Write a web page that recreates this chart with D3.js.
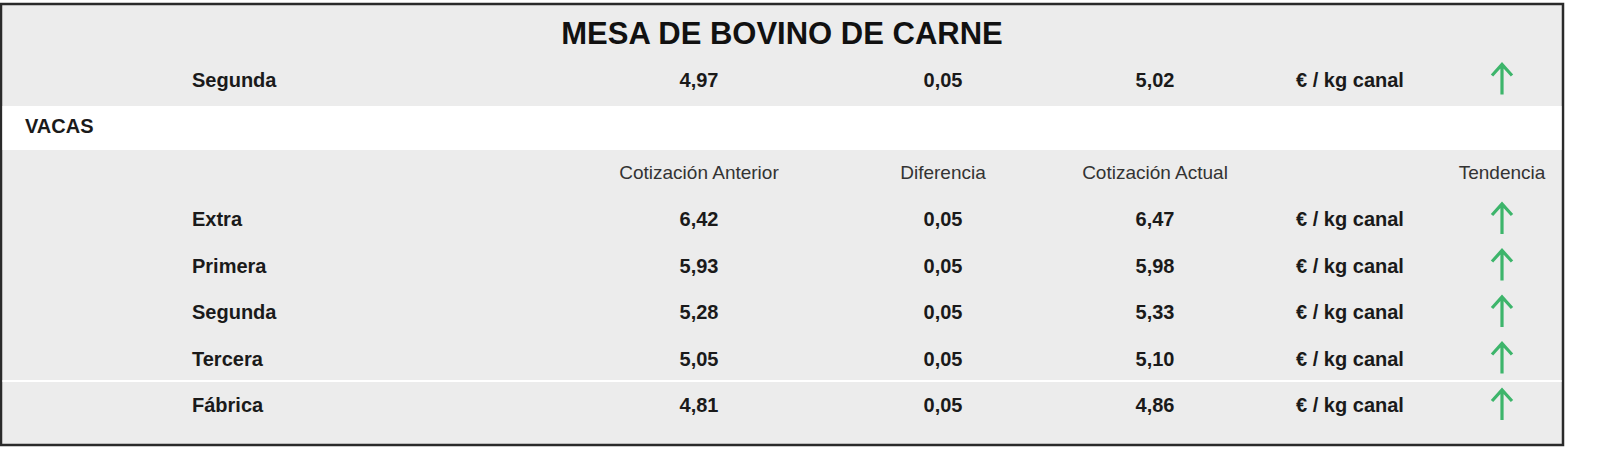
<!DOCTYPE html>
<html><head><meta charset="utf-8">
<script src="https://cdn.jsdelivr.net/npm/d3@7"></script>
<style>
  html,body{margin:0;padding:0;background:#fff;}
  svg{display:block;font-family:"Liberation Sans",Arial,sans-serif;}
</style></head>
<body>
<svg id="root" width="1600" height="462"></svg>
<script>
// data
var title = "MESA DE BOVINO DE CARNE";
var headers = ["Cotización Anterior", "Diferencia", "Cotización Actual", "", "Tendencia"];
var prevRow = {label: "Segunda", anterior: "4,97", diff: "0,05", actual: "5,02"};
var section = "VACAS";
var categories = ["Extra", "Primera", "Segunda", "Tercera", "Fábrica"];
var anterior = ["6,42", "5,93", "5,28", "5,05", "4,81"];
var diferencia = ["0,05", "0,05", "0,05", "0,05", "0,05"];
var actual = ["6,47", "5,98", "5,33", "5,10", "4,86"];
var unit = "€ / kg canal";

var svg = d3.select('#root');
var rowKeys = ["title", "prev", "section", "header"].concat(categories.map(function(c, i) { return "r" + i; }));
var y = d3.scalePoint().domain(rowKeys).range([33, 405]);
var cols = ["label", "anterior", "diff", "actual", "unit", "trend"];
var x = d3.scaleOrdinal().domain(cols).range([192, 699, 943, 1155, 1350, 1502]);

// background box
svg.append('rect').attr('x', 1).attr('y', 4).attr('width', 1562).attr('height', 441)
  .attr('fill', '#ececec').attr('stroke', '#2a2a2a').attr('stroke-width', 2.5);
svg.append('rect').attr('x', 2.5).attr('y', 106).attr('width', 1559).attr('height', 44).attr('fill', '#fff');
svg.append('line').attr('x1', 2.5).attr('x2', 1561.5).attr('y1', 381).attr('y2', 381)
  .attr('stroke', '#fff').attr('stroke-width', 2);

svg.append('text').attr('x', 782).attr('y', y('title')).attr('dy', '0.35em')
  .attr('text-anchor', 'middle').attr('font-size', 31).attr('font-weight', 'bold')
  .attr('fill', '#111').text(title);

svg.append('text').attr('x', 25).attr('y', y('section')).attr('dy', '0.35em')
  .attr('font-size', 20).attr('font-weight', 'bold').attr('fill', '#1a1a1a').text(section);

// header row
svg.selectAll('.hdr').data(headers).enter().append('text')
  .attr('class', 'hdr')
  .attr('x', function(d, i) { return x(cols[i + 1]); })
  .attr('y', y('header')).attr('dy', '0.35em')
  .attr('text-anchor', 'middle').attr('font-size', 19).attr('fill', '#333')
  .text(function(d) { return d; });

var rows = [{key: "prev", label: prevRow.label, anterior: prevRow.anterior, diff: prevRow.diff, actual: prevRow.actual}]
  .concat(categories.map(function(c, i) {
    return {key: "r" + i, label: c, anterior: anterior[i], diff: diferencia[i], actual: actual[i]};
  }));

var rowG = svg.selectAll('.row').data(rows).enter().append('g')
  .attr('class', 'row')
  .attr('transform', function(d) { return 'translate(0,' + y(d.key) + ')'; });

rowG.append('text').attr('x', x('label')).attr('dy', '0.35em')
  .attr('font-size', 20).attr('font-weight', 'bold').attr('fill', '#1a1a1a')
  .text(function(d) { return d.label; });

["anterior", "diff", "actual"].forEach(function(k) {
  rowG.append('text').attr('x', x(k)).attr('dy', '0.35em').attr('text-anchor', 'middle')
    .attr('font-size', 20).attr('font-weight', 'bold').attr('fill', '#1a1a1a')
    .text(function(d) { return d[k]; });
});

rowG.append('text').attr('x', x('unit')).attr('dy', '0.35em').attr('text-anchor', 'middle')
  .attr('font-size', 20).attr('font-weight', 'bold').attr('fill', '#1a1a1a').text(unit);

// up arrows
rowG.append('path')
  .attr('transform', 'translate(' + x('trend') + ',0)')
  .attr('d', 'M0,15 L0,-14 M-10,-4 L0,-15 L10,-4')
  .attr('fill', 'none').attr('stroke', '#3db56b').attr('stroke-width', 3.2)
  .attr('stroke-linejoin', 'miter');
</script>
</body></html>
